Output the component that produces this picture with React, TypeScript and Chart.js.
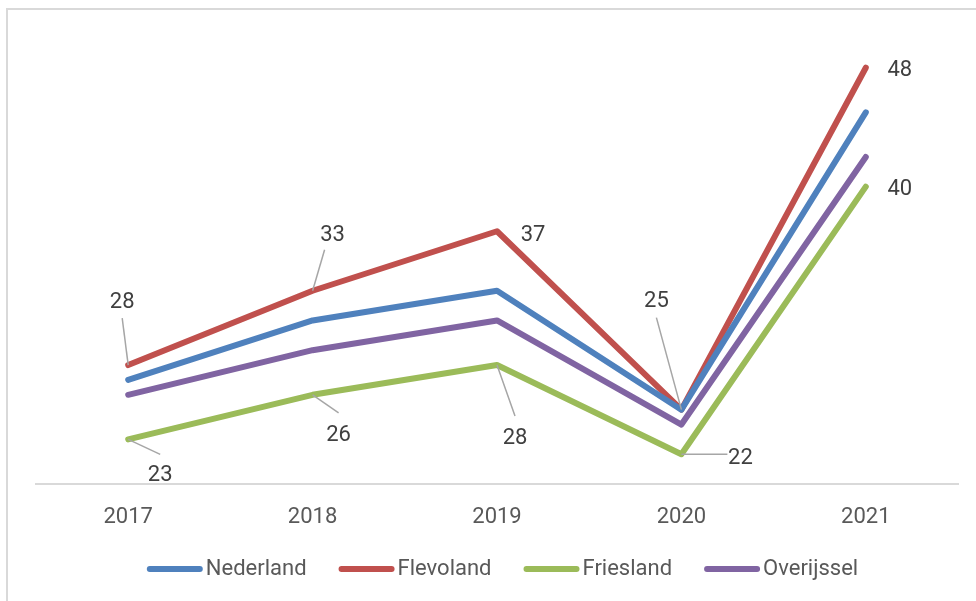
import React, { useEffect, useRef } from "react";
import { Chart, registerables } from "chart.js";

Chart.register(...registerables);

const years = ["2017", "2018", "2019", "2020", "2021"];
const nederland = [27, 31, 33, 25, 45];
const flevoland = [28, 33, 37, 25, 48];
const friesland = [23, 26, 28, 22, 40];
const overijssel = [26, 29, 31, 24, 42];

const seriesNames = ["Nederland", "Flevoland", "Friesland", "Overijssel"];
const seriesData = [nederland, flevoland, friesland, overijssel];
const seriesColors = ["#4f81bd", "#c0504d", "#9bbb59", "#8064a2"];

// label placement styles (text offset from point, optional leader end offset)
type LabelStyle = { dx: number; dy: number; lx?: number; ly?: number };
const labelStyles: Record<number, LabelStyle[]> = {
  1: [
    { dx: -6, dy: -65, lx: -6, ly: -47 },
    { dx: 20, dy: -57, lx: 12, ly: -41 },
    { dx: 36, dy: 2 },
    { dx: -25, dy: -110, lx: -25, ly: -92 },
    { dx: 34, dy: 1 },
  ],
  2: [
    { dx: 32, dy: 34, lx: 32, ly: 15 },
    { dx: 26, dy: 39, lx: 26, ly: 18 },
    { dx: 18, dy: 71, lx: 18, ly: 51 },
    { dx: 59, dy: 2, lx: 46, ly: 0 },
    { dx: 34, dy: 1 },
  ],
};
const LABEL_TEXT_SHIFT = 2;

const FONT = "Roboto, 'Open Sans', sans-serif";
const LABEL_COLOR = "#404040";
const TEXT_COLOR = "#595959";

const dataLabelPlugin = {
  id: "dataLabels",
  afterDatasetsDraw(chart: any) {
    const ctx = chart.ctx;
    ctx.save();
    Object.keys(labelStyles).forEach((k) => {
      const di = Number(k);
      const meta = chart.getDatasetMeta(di);
      const ds = chart.data.datasets[di];
      meta.data.forEach((pt: any, i: number) => {
        const st = labelStyles[di][i];
        if (!st) return;
        const x = pt.x;
        const y = pt.y;
        if (st.lx !== undefined && st.ly !== undefined) {
          ctx.beginPath();
          ctx.strokeStyle = "#a6a6a6";
          ctx.lineWidth = 1.5;
          ctx.moveTo(x, y);
          ctx.lineTo(x + st.lx, y + st.ly);
          ctx.stroke();
        }
        ctx.fillStyle = LABEL_COLOR;
        ctx.font = `22px ${FONT}`;
        ctx.textAlign = "center";
        ctx.textBaseline = "middle";
        ctx.fillText(String(ds.data[i]), x + st.dx, y + st.dy + LABEL_TEXT_SHIFT);
      });
    });
    ctx.restore();
  },
};

const legendPlugin = {
  id: "customLegend",
  afterDraw(chart: any) {
    const ctx = chart.ctx;
    ctx.save();
    ctx.font = `22px ${FONT}`;
    const lineLen = 50;
    const gapText = 6;
    const gapItem = 35;
    const items = chart.data.datasets.map((d: any) => ({
      label: d.label,
      color: d.borderColor,
      w: ctx.measureText(d.label).width,
    }));
    let total = 0;
    items.forEach((it: any, i: number) => {
      total += lineLen + gapText + it.w + (i < items.length - 1 ? gapItem : 0);
    });
    const centerX = 504;
    const y = 569;
    let x = centerX - total / 2;
    items.forEach((it: any) => {
      ctx.beginPath();
      ctx.strokeStyle = it.color;
      ctx.lineWidth = 6;
      ctx.lineCap = "round";
      ctx.moveTo(x, y);
      ctx.lineTo(x + lineLen, y);
      ctx.stroke();
      ctx.fillStyle = TEXT_COLOR;
      ctx.textAlign = "left";
      ctx.textBaseline = "middle";
      ctx.fillText(it.label, x + lineLen + gapText, y);
      x += lineLen + gapText + it.w + gapItem;
    });
    ctx.restore();
  },
};

export default function App() {
  const ref = useRef<HTMLCanvasElement>(null);
  useEffect(() => {
    if (!ref.current) return;
    const chart = new Chart(ref.current, {
      type: "line",
      data: {
        labels: years,
        datasets: seriesNames.map((name, i) => ({
          label: name,
          data: seriesData[i],
          borderColor: seriesColors[i],
          backgroundColor: seriesColors[i],
          borderWidth: 6,
          borderCapStyle: "round" as const,
          borderJoinStyle: "round" as const,
          pointRadius: 0,
          pointHoverRadius: 0,
          tension: 0,
          fill: false,
        })),
      },
      options: {
        animation: false,
        responsive: false,
        events: [],
        layout: { padding: { left: 36, right: 18, top: 38, bottom: 0 } },
        plugins: {
          legend: { display: false },
          tooltip: { enabled: false },
        },
        scales: {
          x: {
            offset: true,
            grid: { display: false, drawTicks: false },
            border: { display: true, color: "#d9d9d9", width: 2 },
            ticks: {
              color: TEXT_COLOR,
              font: { family: FONT, size: 22 },
              padding: 20,
            },
            afterFit: (scale: any) => {
              scale.height = 117;
            },
          },
          y: {
            display: false,
            min: 20,
            max: 50,
          },
        },
      },
      plugins: [dataLabelPlugin, legendPlugin],
    });
    return () => chart.destroy();
  }, []);

  return (
    <div>
      <div
        style={{
          position: "fixed",
          left: 6,
          top: 8,
          width: 1000,
          height: 700,
          border: "2px solid #d9d9d9",
          pointerEvents: "none",
        }}
      />
      <canvas
        ref={ref}
        width={976}
        height={601}
        style={{ position: "fixed", left: 0, top: 0, display: "block" }}
      />
    </div>
  );
}
